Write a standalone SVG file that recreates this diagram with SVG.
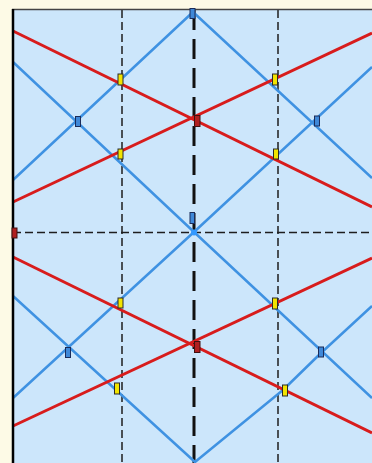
<svg xmlns="http://www.w3.org/2000/svg" width="372" height="463" viewBox="0 0 372 463">
<style>
.bl{fill:none;stroke:#3f92e2;stroke-width:2.5;stroke-linejoin:round}
.rd{fill:none;stroke:#d81c1c;stroke-width:3}
.gd{stroke:#1e1e1e;stroke-width:1.5;stroke-dasharray:8 4}
.gc{stroke:#111;stroke-width:3;stroke-dasharray:20 9}
.my{fill:#f2e400;stroke:#2a2a2a;stroke-width:1}
.mb{fill:#3f88d8;stroke:#1a2c5a;stroke-width:1}
.mr{fill:#b02020;stroke:#401010;stroke-width:1}
</style>
<rect x="0" y="0" width="372" height="463" fill="#fdfae6"/>
<rect x="13" y="9.5" width="359" height="453.5" fill="#cce6fb"/>
<g id="connectors">
<line class="gd" x1="122" y1="10" x2="122" y2="463"/>
<line class="gd" x1="278" y1="10" x2="278" y2="463"/>
<line class="gd" x1="13" y1="232.5" x2="372" y2="232.5"/>
<line class="gc" x1="194" y1="10" x2="194" y2="463"/>
<polyline class="bl" points="13,180 193,12 372,178"/>
<polyline class="bl" points="13,62 194,232 372,67"/>
<polyline class="bl" points="13,398 194,232 372,398"/>
<polyline class="bl" points="13,296 195,462 283,390 321,353 372,306"/>
<line class="rd" x1="13" y1="31" x2="372" y2="207"/>
<line class="rd" x1="13" y1="202" x2="372" y2="33"/>
<line class="rd" x1="13" y1="257" x2="372" y2="433"/>
<line class="rd" x1="13" y1="426" x2="372" y2="258"/>
</g>
<g id="frame">
<line x1="12" y1="9.5" x2="372" y2="9.5" stroke="#444" stroke-width="1.5"/>
<line x1="13" y1="9" x2="13" y2="463" stroke="#000" stroke-width="2.5"/>
</g>
<circle id="center" cx="194" cy="232.5" r="3" fill="#3399ff"/>
<g id="yellow-markers">
<rect class="my" x="118" y="74" width="5" height="11"/>
<rect class="my" x="272.5" y="74" width="5" height="11"/>
<rect class="my" x="118" y="149" width="5" height="10"/>
<rect class="my" x="273.5" y="149" width="5" height="10"/>
<rect class="my" x="118" y="298" width="5" height="10"/>
<rect class="my" x="272.5" y="298" width="5" height="11"/>
<rect class="my" x="114.5" y="383" width="5" height="11"/>
<rect class="my" x="282.5" y="385" width="5" height="11"/>
</g>
<g id="blue-markers">
<rect class="mb" x="190" y="8.5" width="5" height="10"/>
<rect class="mb" x="75.5" y="116.5" width="5" height="10"/>
<rect class="mb" x="314.5" y="116" width="5" height="10"/>
<rect class="mb" x="190" y="212.5" width="4.5" height="11"/>
<rect class="mb" x="65.5" y="347.5" width="5" height="10"/>
<rect class="mb" x="318.5" y="347" width="5" height="10"/>
</g>
<g id="red-markers">
<rect class="mr" x="194.5" y="115.5" width="5.5" height="11"/>
<rect class="mr" x="194.5" y="341.5" width="5.5" height="11"/>
<rect class="mr" x="12" y="228" width="5" height="10"/>
</g>
</svg>
